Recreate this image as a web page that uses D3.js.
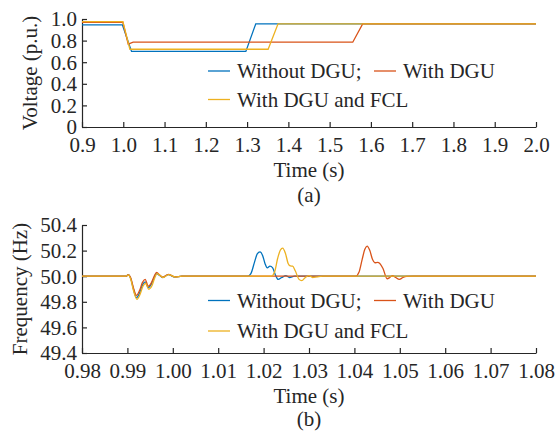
<!DOCTYPE html>
<html><head><meta charset="utf-8">
<script src="https://cdn.jsdelivr.net/npm/d3@7"></script>
<style>body{margin:0;background:#fff}svg{display:block}text{font-family:"Liberation Serif","Times New Roman",serif;fill:#262626}</style>
</head><body>
<script>
// ---- Data: voltage (top panel) ----
const vTicksX = [0.9,1.0,1.1,1.2,1.3,1.4,1.5,1.6,1.7,1.8,1.9,2.0];
const vTicksY = [0,0.2,0.4,0.6,0.8,1.0];
const vBlueT  = [0.9,0.998,1.020,1.297,1.321,2.0];
const vBlueV  = [0.945,0.945,0.700,0.700,0.955,0.955];
const vRedT   = [0.9,0.999,1.012,1.024,1.556,1.580,2.0];
const vRedV   = [0.970,0.970,0.768,0.785,0.785,0.955,0.955];
const vOrgT   = [0.9,0.999,1.016,1.351,1.375,2.0];
const vOrgV   = [0.975,0.975,0.720,0.720,0.955,0.955];

// ---- Data: frequency (bottom panel) ----
const fTicksX = [0.98,0.99,1.00,1.01,1.02,1.03,1.04,1.05,1.06,1.07,1.08];
const fTicksY = [49.4,49.6,49.8,50.0,50.2,50.4];
const fBlueT = [0.98,0.9897,0.9902,0.9907,0.9914,0.9920,0.9927,0.9933,0.9939,0.9946,0.9953,0.9959,0.99645,0.9971,0.99778,0.9990,1.0005,1.002,1.0165,1.0172,1.0180,1.0186,1.0192,1.0198,1.0203,1.0208,1.0214,1.0220,1.0226,1.0232,1.0240,1.0249,1.0257,1.0268,1.08];
const fBlueV = [50,50,50.012,49.985,49.89,49.832,49.87,49.93,49.955,49.912,49.94,49.99,50.02,50.005,49.99,50.013,49.993,50,50,50.02,50.11,50.175,50.19,50.16,50.1,50.065,50.078,50.065,50.01,49.975,49.99,50.004,49.99,50,50];
const fRedT = [0.98,0.9897,0.9902,0.9907,0.9914,0.9920,0.9927,0.9933,0.9939,0.9946,0.9953,0.9959,0.99645,0.9971,0.99778,0.9990,1.0005,1.002,1.0403,1.0410,1.0417,1.0423,1.0428,1.0434,1.0440,1.0445,1.0451,1.0456,1.0463,1.0472,1.0478,1.0484,1.0491,1.0499,1.0507,1.0515,1.053,1.08];
const fRedV = [50,50,50.012,49.99,49.90,49.85,49.89,49.95,49.975,49.922,49.95,50.0,50.03,50.01,49.993,50.015,49.995,50,50,50.03,50.13,50.21,50.235,50.2,50.13,50.105,50.108,50.1,50.06,49.98,49.99,50.005,49.99,49.975,49.99,49.998,50,50];
const fOrgT = [0.98,0.9897,0.9902,0.9907,0.9914,0.9921,0.9928,0.9934,0.9940,0.9947,0.9954,0.9960,0.99655,0.9972,0.99785,0.9991,1.0006,1.002,1.0217,1.0224,1.0231,1.0237,1.0242,1.0248,1.0254,1.0259,1.0264,1.0270,1.0278,1.0284,1.0292,1.0300,1.0308,1.0318,1.0330,1.08];
const fOrgV = [50,50,50.01,49.98,49.88,49.82,49.86,49.92,49.945,49.898,49.925,49.985,50.02,50.005,49.99,50.012,49.993,50,50,50.03,50.14,50.205,50.22,50.18,50.1,50.08,50.078,50.04,49.975,49.965,49.99,50.005,49.99,49.995,50,50];

const colors = {blue:"#0072BD", red:"#D95319", orange:"#EDB120"};
const FS = 21;
const FONT = '"Liberation Serif","Times New Roman",serif';

const svg = d3.select("body").append("svg").attr("width",559).attr("height",434);

function panel(cfg){
  const x = d3.scaleLinear().domain(cfg.xd).range([82,536]);
  const y = d3.scaleLinear().domain(cfg.yd).range(cfg.yr);
  const gx = svg.append("g").attr("transform",`translate(0,${cfg.yr[0]})`)
    .call(d3.axisBottom(x).tickValues(cfg.xt).tickFormat(cfg.xf).tickSizeInner(-5).tickSizeOuter(0));
  gx.selectAll("text").attr("y",0).attr("dy",0).attr("transform",`translate(0,${cfg.xlab})`);
  const gy = svg.append("g").attr("transform","translate(82,0)")
    .call(d3.axisLeft(y).tickValues(cfg.yt).tickFormat(cfg.yf).tickSizeInner(-5).tickSizeOuter(0).tickPadding(5));
  gy.selectAll("text").attr("dy","0.33em");
  [gx,gy].forEach(g=>{
    g.attr("font-family",null).attr("font-size",null);
    g.selectAll("text").attr("fill",null).style("font-size",FS+"px").style("font-family",FONT);
  });
  svg.selectAll(".domain, .tick line").attr("stroke","#262626").attr("stroke-width",1.2);
  const line = d3.line().x(d=>x(d[0])).y(d=>y(d[1])).curve(cfg.curve);
  cfg.series.forEach(s=>{
    svg.append("path").datum(d3.zip(s.t,s.v)).attr("d",line)
      .attr("fill","none").attr("stroke",s.c).attr("stroke-width",1.3);
  });
  // legend
  const L = cfg.leg;
  const items = [[208,L[0],"Without DGU;",colors.blue],[374,L[0],"With DGU",colors.red],[208,L[1],"With DGU and FCL",colors.orange]];
  items.forEach(([lx,ly,txt,c])=>{
    svg.append("line").attr("x1",lx).attr("x2",lx+22).attr("y1",ly).attr("y2",ly).attr("stroke",c).attr("stroke-width",1.3);
    svg.append("text").attr("x",lx+29).attr("y",ly+7).style("font-size",FS+"px").text(txt);
  });
  svg.append("text").attr("x",309).attr("y",cfg.titleY).attr("text-anchor","middle").style("font-size",FS+"px").text("Time (s)");
  svg.append("text").attr("x",309).attr("y",cfg.subY).attr("text-anchor","middle").style("font-size",FS+"px").text(cfg.sub);
  svg.append("text").attr("transform",`translate(${cfg.ylx},${cfg.yly}) rotate(-90)`).attr("text-anchor","middle").style("font-size",FS+"px").text(cfg.ylabel);
}

panel({xd:[0.9,2.0], yd:[0,1], yr:[127,19], xt:vTicksX, yt:vTicksY,
  xf:d3.format(".1f"), yf:d=>d===0?"0":d3.format(".1f")(d), xlab:25,
  curve:d3.curveLinear,
  series:[{t:vBlueT,v:vBlueV,c:colors.blue},{t:vRedT,v:vRedV,c:colors.red},{t:vOrgT,v:vOrgV,c:colors.orange}],
  leg:[71,99.5], titleY:177, subY:202, sub:"(a)", ylabel:"Voltage (p.u.)", ylx:37, yly:73});

panel({xd:[0.98,1.08], yd:[49.4,50.4], yr:[353,225], xt:fTicksX, yt:fTicksY,
  xf:d3.format(".2f"), yf:d3.format(".1f"), xlab:25,
  curve:d3.curveMonotoneX,
  series:[{t:fBlueT,v:fBlueV,c:colors.blue},{t:fRedT,v:fRedV,c:colors.red},{t:fOrgT,v:fOrgV,c:colors.orange}],
  leg:[300.5,331], titleY:403, subY:426, sub:"(b)", ylabel:"Frequency (Hz)", ylx:27, yly:289});
</script>
</body></html>
